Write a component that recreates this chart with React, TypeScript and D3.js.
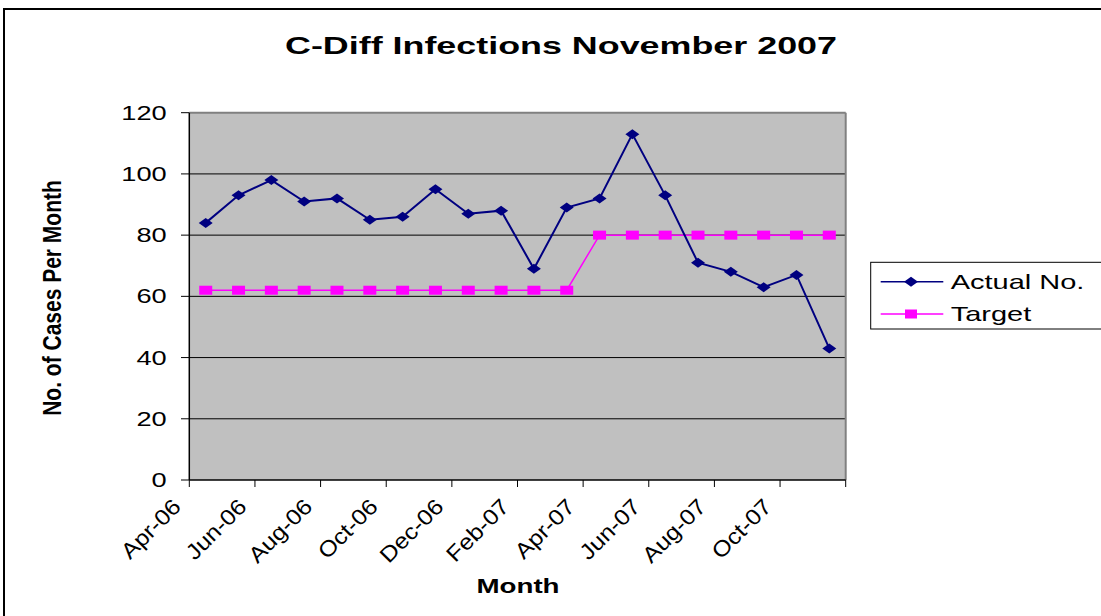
import React from "react";
import * as d3 from "d3";

const months = [
  "Apr-06", "May-06", "Jun-06", "Jul-06", "Aug-06", "Sep-06", "Oct-06", "Nov-06", "Dec-06", "Jan-07",
  "Feb-07", "Mar-07", "Apr-07", "May-07", "Jun-07", "Jul-07", "Aug-07", "Sep-07", "Oct-07", "Nov-07",
];
const actual = [84, 93, 98, 91, 92, 85, 86, 95, 87, 88, 69, 89, 92, 113, 93, 71, 68, 63, 67, 43];
const target = [62, 62, 62, 62, 62, 62, 62, 62, 62, 62, 62, 62, 80, 80, 80, 80, 80, 80, 80, 80];
const yTicks = [0, 20, 40, 60, 80, 100, 120];
const xTickLabels = ["Apr-06", "Jun-06", "Aug-06", "Oct-06", "Dec-06", "Feb-07", "Apr-07", "Jun-07", "Aug-07", "Oct-07"];

const title = "C-Diff Infections November 2007";
const xTitle = "Month";
const yTitle = "No. of Cases Per Month";
const seriesNames = ["Actual No.", "Target"];

const W = 1101;
const H = 616;
const L = 189.3, R = 845.7, T = 112.7, B = 480;
const NAVY = "#000080";
const MAG = "#FF00FF";
const FONT = "'Liberation Sans', Arial, sans-serif";

export default function App() {
  const x = d3.scaleBand<string>().domain(months).range([L, R]).padding(0);
  const y = d3.scaleLinear().domain([0, 120]).range([B, T]);
  const cx = (m: string) => (x(m) as number) + x.bandwidth() / 2;

  const lineA = d3.line<number>().x((_, i) => cx(months[i])).y((d) => y(d));

  const diamond = (px: number, py: number, hw = 7, hh = 5) =>
    `M${px - hw},${py}L${px},${py - hh}L${px + hw},${py}L${px},${py + hh}Z`;

  const xTickPos = months.filter((_, i) => i % 2 === 0).map((m) => x(m) as number).concat([R]);

  return (
    <svg width={W} height={H} style={{ position: "absolute", left: 0, top: 0 }} fontFamily={FONT}>
      <rect x={0} y={0} width={W} height={H} fill="#fff" />
      <rect x={4} y={9} width={1120} height={640} fill="#fff" stroke="#000" strokeWidth={2} />

      <text
        x={561}
        y={53.5}
        textAnchor="middle"
        fontSize={24}
        fontWeight="bold"
        textLength={552}
        lengthAdjust="spacingAndGlyphs"
      >
        {title}
      </text>

      {/* plot area */}
      <rect x={L} y={T} width={R - L} height={B - T} fill="#C0C0C0" />
      {yTicks.filter((t) => t > 0 && t < 120).map((t) => (
        <line key={t} x1={L} x2={R} y1={y(t)} y2={y(t)} stroke="#000" strokeWidth={1} />
      ))}
      <line x1={L} x2={R} y1={T} y2={T} stroke="#808080" strokeWidth={2} />
      <line x1={R} x2={R} y1={T} y2={B} stroke="#808080" strokeWidth={2} />
      <line x1={L} x2={L} y1={T} y2={B} stroke="#000" strokeWidth={1.5} />
      <line x1={L} x2={R} y1={B} y2={B} stroke="#000" strokeWidth={1.5} />

      {/* y ticks */}
      {yTicks.map((t) => (
        <g key={t}>
          <line x1={181} x2={L} y1={y(t)} y2={y(t)} stroke="#000" strokeWidth={1} />
          <text
            transform={`translate(166.7,${y(t) + 7}) scale(1.36,1)`}
            textAnchor="end"
            fontSize={20}
          >
            {t}
          </text>
        </g>
      ))}

      {/* x ticks */}
      {xTickPos.map((p, i) => (
        <line key={i} x1={p} x2={p} y1={B} y2={B + 7} stroke="#000" strokeWidth={1} />
      ))}
      {xTickLabels.map((lab, i) => (
        <text
          key={lab}
          transform={`translate(${xTickPos[i] - 7},${B + 28}) rotate(-45) scale(1.12,1)`}
          textAnchor="end"
          fontSize={22}
        >
          {lab}
        </text>
      ))}

      {/* axis titles */}
      <text
        transform={`translate(518,593.3) scale(1.32,1)`}
        textAnchor="middle"
        fontSize={21}
        fontWeight="bold"
      >
        {xTitle}
      </text>
      <text
        transform={`translate(61,298) scale(1.2,1) rotate(-90)`}
        textAnchor="middle"
        fontSize={21}
        fontWeight="bold"
      >
        {yTitle}
      </text>

      {/* series */}
      <path d={lineA(target) || ""} fill="none" stroke={MAG} strokeWidth={1.5} />
      {target.map((v, i) => (
        <rect key={i} x={cx(months[i]) - 6.5} y={y(v) - 4.5} width={13} height={9} fill={MAG} />
      ))}
      <path d={lineA(actual) || ""} fill="none" stroke={NAVY} strokeWidth={2} />
      {actual.map((v, i) => (
        <path key={i} d={diamond(cx(months[i]), y(v))} fill={NAVY} />
      ))}

      {/* legend */}
      <rect x={870.7} y={262.3} width={260} height={66.7} fill="#fff" stroke="#000" strokeWidth={1} />
      <line x1={880.7} x2={943.3} y1={281.7} y2={281.7} stroke={NAVY} strokeWidth={1.5} />
      <path d={diamond(911, 281.7)} fill={NAVY} />
      <text transform="translate(950.7,288.5) scale(1.45,1)" fontSize={20}>
        {seriesNames[0]}
      </text>
      <line x1={880.7} x2={943.3} y1={314} y2={314} stroke={MAG} strokeWidth={1.5} />
      <rect x={905} y={309.5} width={12} height={9} fill={MAG} />
      <text transform="translate(950.7,320.5) scale(1.45,1)" fontSize={20}>
        {seriesNames[1]}
      </text>
    </svg>
  );
}
